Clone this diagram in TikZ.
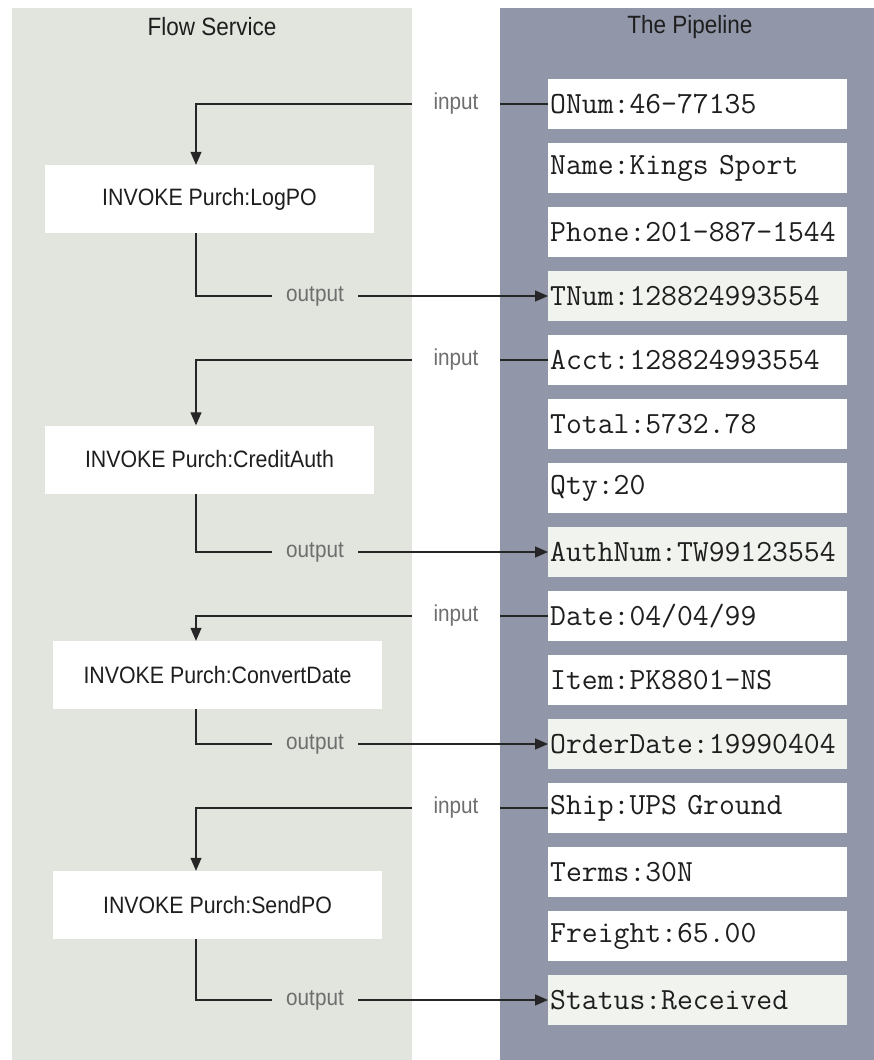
\documentclass[tikz,border=0pt]{standalone}
\usepackage{fontspec}
\setmainfont[FakeStretch=0.9]{Liberation Sans}
\usetikzlibrary{arrows.meta}
\definecolor{flowbg}{RGB}{225,229,221}
\definecolor{pipebg}{RGB}{145,150,168}
\definecolor{outfill}{RGB}{241,243,238}
\definecolor{lblgray}{RGB}{110,110,110}
\definecolor{txtdark}{RGB}{30,30,30}
\tikzset{
  invoke/.style={fill=white, minimum width=329pt, minimum height=68pt, inner sep=0pt, text=txtdark, font=\fontsize{23.7}{26}\selectfont},
  pipe/.style={fill=white, anchor=west, text width=295pt, align=left, inner xsep=2pt, inner ysep=0pt, minimum height=50pt, text=txtdark, font=\ttfamily\fontsize{30.8}{31}\selectfont},
  pipeout/.style={pipe, fill=outfill},
  inlbl/.style={fill=white, minimum width=88pt, inner sep=3pt, text=lblgray, font=\fontsize{23}{24}\selectfont},
  outlbl/.style={inlbl, fill=flowbg, minimum width=86pt},
  link/.style={line width=1.2pt, draw=black!85, -{Triangle[length=13pt,width=11pt]}},
  head/.style={text=txtdark, font=\fontsize{25}{26}\selectfont}
}
\begin{document}
\begin{tikzpicture}[x=1pt,y=-1pt]
        \useasboundingbox (0,0) rectangle (874,1060);
        % the two columns
        \fill[flowbg] (12,8) rectangle (412,1060);
        \fill[pipebg] (500,8) rectangle (874,1060);
        \node[head] (flowhd) at (212,27) {Flow Service};
        \node[head] (pipehd) at (690,27) {The Pipeline};
        % pipeline entries
        \node[pipe] (onum) at (548,104) {ONum:46-77135};
        \node[pipe] (name) at (548,168) {Name:Kings Sport};
        \node[pipe] (phone) at (548,232) {Phone:201-887-1544};
        \node[pipeout] (tnum) at (548,296) {TNum:128824993554};
        \node[pipe] (acct) at (548,360) {Acct:128824993554};
        \node[pipe] (total) at (548,424) {Total:5732.78};
        \node[pipe] (qty) at (548,488) {Qty:20};
        \node[pipeout] (authnum) at (548,552) {AuthNum:TW99123554};
        \node[pipe] (date) at (548,616) {Date:04/04/99};
        \node[pipe] (item) at (548,680) {Item:PK8801-NS};
        \node[pipeout] (orddate) at (548,744) {OrderDate:19990404};
        \node[pipe] (ship) at (548,808) {Ship:UPS Ground};
        \node[pipe] (terms) at (548,872) {Terms:30N};
        \node[pipe] (freight) at (548,936) {Freight:65.00};
        \node[pipeout] (status) at (548,1000) {Status:Received};
        % flow steps
        \node[invoke] (logpo) at (209.5,199) {INVOKE Purch:LogPO};
        \node[invoke] (credit) at (209.5,459.5) {INVOKE Purch:CreditAuth};
        \node[invoke] (convert) at (217.5,675) {INVOKE Purch:ConvertDate};
        \node[invoke] (sendpo) at (217.5,905) {INVOKE Purch:SendPO};
        % inputs and outputs
        \draw[link] (onum.west) -| ([xshift=-13.5pt]logpo.north);
        \draw[link] ([xshift=-13.5pt]logpo.south) |- (tnum.west);
        \draw[link] (acct.west) -| ([xshift=-13.5pt]credit.north);
        \draw[link] ([xshift=-13.5pt]credit.south) |- (authnum.west);
        \draw[link] (date.west) -| ([xshift=-21.5pt]convert.north);
        \draw[link] ([xshift=-21.5pt]convert.south) |- (orddate.west);
        \draw[link] (ship.west) -| ([xshift=-21.5pt]sendpo.north);
        \draw[link] ([xshift=-21.5pt]sendpo.south) |- (status.west);
        \node[inlbl] (in1) at (456,104) {input};
        \node[outlbl] (out1) at (315,296) {output};
        \node[inlbl] (in2) at (456,360) {input};
        \node[outlbl] (out2) at (315,552) {output};
        \node[inlbl] (in3) at (456,616) {input};
        \node[outlbl] (out3) at (315,744) {output};
        \node[inlbl] (in4) at (456,808) {input};
        \node[outlbl] (out4) at (315,1000) {output};
\end{tikzpicture}
\end{document}
